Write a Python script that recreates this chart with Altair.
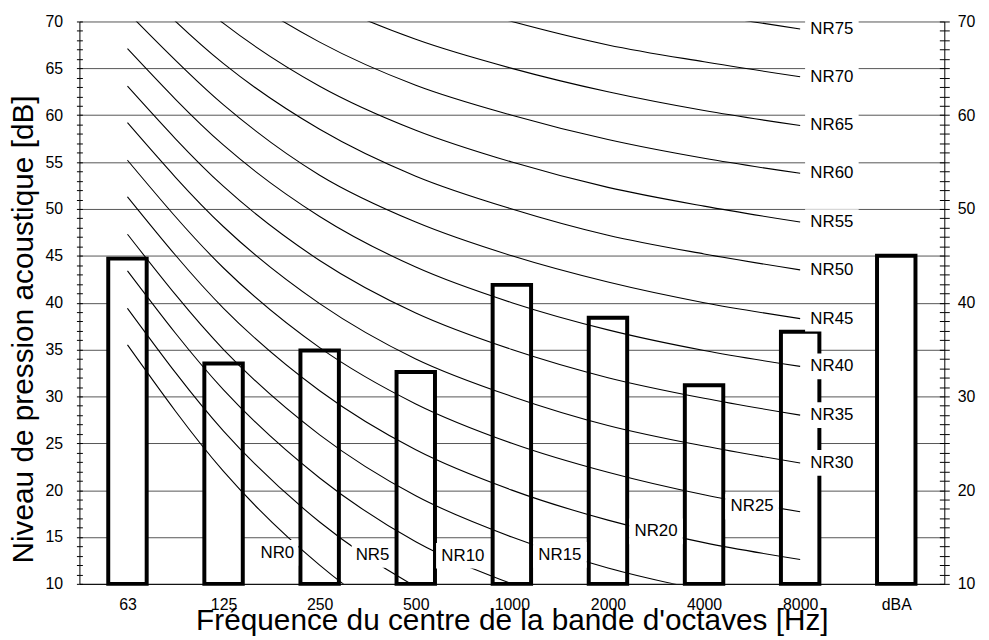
import altair as alt
import pandas as pd

FONT = "Liberation Sans"

# Octave bands (x categories) and measured levels (bars)
bands = ["63", "125", "250", "500", "1000", "2000", "4000", "8000", "dBA"]
levels = [44.7, 33.5, 34.9, 32.6, 41.9, 38.4, 31.2, 36.9, 45.0]

# NR curves: level at each octave band 63 ... 8000 Hz
nr_names = ["NR0", "NR5", "NR10", "NR15", "NR20", "NR25", "NR30", "NR35",
            "NR40", "NR45", "NR50", "NR55", "NR60", "NR65", "NR70", "NR75"]
nr_values = [
    [35.5, 22.0, 12.0, 4.8, 0.0, -3.5, -6.1, -8.0],
    [39.4, 26.3, 16.6, 9.7, 5.0, 1.6, -1.0, -2.8],
    [43.4, 30.7, 21.3, 14.5, 10.0, 6.6, 4.2, 2.3],
    [47.3, 35.0, 25.9, 19.4, 15.0, 11.7, 9.3, 7.4],
    [51.3, 39.4, 30.6, 24.3, 20.0, 16.8, 14.4, 12.6],
    [55.2, 43.7, 35.2, 29.2, 25.0, 21.9, 19.5, 17.7],
    [59.2, 48.1, 39.9, 34.0, 30.0, 26.9, 24.7, 22.9],
    [63.1, 52.4, 44.5, 38.9, 35.0, 32.0, 29.8, 28.0],
    [67.1, 56.8, 49.2, 43.8, 40.0, 37.1, 34.9, 33.2],
    [71.0, 61.1, 53.6, 48.6, 45.0, 42.2, 40.0, 38.3],
    [75.0, 65.5, 58.5, 53.5, 50.0, 47.2, 45.2, 43.5],
    [78.9, 69.8, 63.1, 58.4, 55.0, 52.3, 50.3, 48.6],
    [82.9, 74.2, 67.8, 63.2, 60.0, 57.4, 55.4, 53.8],
    [86.8, 78.5, 72.4, 68.1, 65.0, 62.5, 60.5, 58.9],
    [90.8, 82.9, 77.1, 73.0, 70.0, 67.5, 65.7, 64.1],
    [94.7, 87.2, 81.7, 77.9, 75.0, 72.6, 70.8, 69.2],
]

# Curve label anchor positions (band index, dB)
label_x = [1.56, 2.55, 3.49, 4.50, 5.50, 6.50,
           7.33, 7.33, 7.33, 7.33, 7.33, 7.33, 7.33, 7.33, 7.33, 7.33]
label_y = [13.3, 13.1, 13.0, 13.1, 15.6, 18.25,
           22.9, 28.0, 33.2, 38.3, 43.5, 48.6, 53.8, 58.9, 64.1, 69.2]

# ---- tables ----
bars_df = pd.DataFrame({
    "band": bands,
    "idx": list(range(len(bands))),
    "level": levels,
})
bars_df["x_lo"] = bars_df["idx"] - 0.2
bars_df["x_hi"] = bars_df["idx"] + 0.2
bars_df["base"] = 10

rows = []
for name, vals in zip(nr_names, nr_values):
    for i, v in enumerate(vals):
        rows.append({"nr": name, "idx": i, "value": v})
curves_df = pd.DataFrame(rows)

labels_df = pd.DataFrame({"label": nr_names, "lx": label_x, "ly": label_y})
labels_df["short"] = labels_df["label"].str.len() < 4

# ---- scales & axes ----
xscale = alt.Scale(domain=[-0.5, 8.5], nice=False, zero=False)
yscale = alt.Scale(domain=[10, 70], nice=False, zero=False)
ticks = list(range(10, 71))
band_expr = "[" + ",".join("'%s'" % b for b in bands) + "][datum.value]"

x_axis = alt.Axis(
    values=list(range(len(bands))), labelExpr=band_expr,
    title="Fréquence du centre de la bande d'octaves [Hz]",
    titleFont=FONT, titleFontSize=30, titleFontWeight="normal", titleColor="black",
    titleY=46, titleBaseline="alphabetic",
    labelFont=FONT, labelFontSize=16, labelColor="black", labelPadding=13,
    ticks=False, tickSize=0, grid=False, domainColor="black", domainWidth=1,
    labelFlush=False, labelOverlap=False,
)

left_main = alt.Axis(
    orient="left", values=ticks,
    labelExpr="datum.value % 5 === 0 ? datum.label : ''",
    labelFont=FONT, labelFontSize=16, labelColor="black", labelPadding=14,
    tickSize=3, tickColor="black", tickWidth=1,
    domainColor="black", domainWidth=1,
    grid=True, gridColor="#555555", gridWidth=1,
    gridOpacity={"condition": {"test": "datum.value % 5 === 0", "value": 1}, "value": 0},
    title="Niveau de pression acoustique [dB]",
    titleFont=FONT, titleFontSize=30, titleFontWeight="normal", titleColor="black",
    titleX=-47, titleY=310, titleBaseline="alphabetic", titleAngle=270, titleAlign="center",
    labelOverlap=False, labelFlush=False,
)
left_inner = alt.Axis(
    orient="left", offset=-3, values=ticks, labels=False, domain=False, grid=False,
    tickSize=3, tickColor="black", tickWidth=1, title=None,
)
right_main = alt.Axis(
    orient="right", values=ticks,
    labelExpr="datum.value % 10 === 0 ? datum.label : ''",
    labelFont=FONT, labelFontSize=16, labelColor="black", labelPadding=8,
    tickSize=5, tickColor="black", tickWidth=1,
    domainColor="black", domainWidth=1, grid=False, title=None,
    labelOverlap=False, labelFlush=False,
)
right_inner = alt.Axis(
    orient="right", offset=-5, values=ticks, labels=False, domain=False, grid=False,
    tickSize=5, tickColor="black", tickWidth=1, title=None,
)

# ---- layers ----
bars = alt.Chart(bars_df).mark_rect(
    fill="white", stroke="black", strokeWidth=4, strokeJoin="miter"
).encode(
    x=alt.X("x_lo:Q", scale=xscale, axis=x_axis),
    x2="x_hi:Q",
    y=alt.Y("level:Q", scale=yscale, axis=left_main),
    y2="base:Q",
)

lines = alt.Chart(curves_df).mark_line(
    color="black", strokeWidth=1.1, interpolate="monotone", clip=True
).encode(
    x=alt.X("idx:Q", scale=xscale, axis=x_axis),
    y=alt.Y("value:Q", scale=yscale, axis=right_inner),
    detail="nr:N",
)

box4 = "M-1,-0.48H1V0.48H-1Z"
box3 = "M-1,-0.62H1V0.62H-1Z"
boxes = alt.Chart(labels_df).mark_point(
    filled=True, fill="white", color="white", opacity=1, strokeWidth=0
).encode(
    x=alt.X("lx:Q", scale=xscale, axis=x_axis),
    y=alt.Y("ly:Q", scale=yscale, axis=right_main),
    shape=alt.condition("datum.short", alt.value(box3), alt.value(box4)),
    size=alt.condition("datum.short", alt.value(42 * 42), alt.value(54 * 54)),
)

texts = alt.Chart(labels_df).mark_text(
    font=FONT, fontSize=17, color="black", align="center", baseline="middle"
).encode(
    x=alt.X("lx:Q", scale=xscale, axis=x_axis),
    y=alt.Y("ly:Q", scale=yscale, axis=left_inner),
    text="label:N",
)

chart = alt.layer(bars, lines, boxes, texts).resolve_axis(
    y="independent"
).properties(
    width=872, height=567,
    autosize=alt.AutoSizeParams(type="none"),
    padding={"left": 72, "top": 11, "right": 37, "bottom": 54},
).configure_view(stroke=None)

chart.save("out.html", embed_options={"renderer": "svg", "actions": False})
